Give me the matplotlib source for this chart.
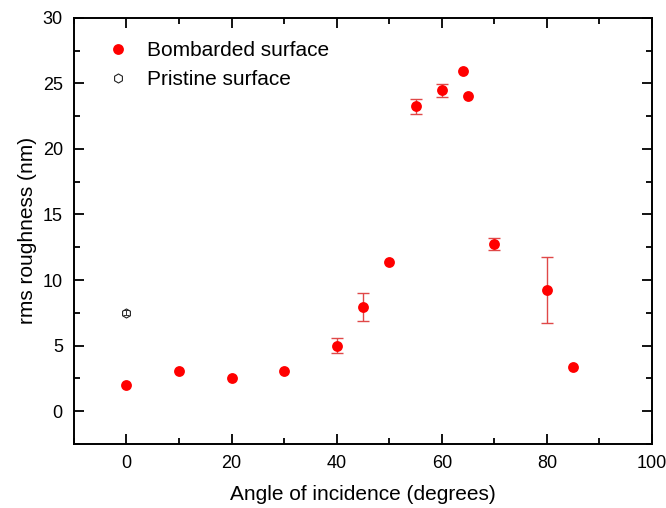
import matplotlib
matplotlib.use('Agg')
import matplotlib.pyplot as plt
from matplotlib.ticker import MultipleLocator

plt.rcParams['font.family'] = ['Liberation Sans', 'DejaVu Sans']

# bombarded surface
angle = [0, 10, 20, 30, 40, 45, 50, 55, 60, 64, 65, 70, 80, 85]
rms = [2.0, 3.08, 2.57, 3.1, 5.01, 7.96, 11.4, 23.25, 24.48, 25.93, 24.0, 12.75, 9.24, 3.38]
rms_err = [0, 0, 0, 0, 0.57, 1.07, 0, 0.55, 0.5, 0, 0, 0.45, 2.55, 0]

# pristine surface
pr_angle = [0]
pr_rms = [7.5]
pr_err = [0.2]

fig = plt.figure(figsize=(6.66, 5.08), dpi=100)
ax = fig.add_axes([0.111, 0.126, 0.868, 0.839])

# only points that actually have an error bar
ex = [a for a, e in zip(angle, rms_err) if e > 0]
ey = [r for r, e in zip(rms, rms_err) if e > 0]
ee = [e for e in rms_err if e > 0]
ax.errorbar(ex, ey, yerr=ee, fmt='none', ecolor='#e04848',
            elinewidth=1.0, capsize=4, capthick=1.0, zorder=2)
ax.plot(angle, rms, 'o', color='#ff0000', markersize=7.8, markeredgewidth=0,
        label='Bombarded surface', zorder=3)
ax.errorbar(pr_angle, pr_rms, yerr=pr_err, fmt='none', ecolor='#333333',
            elinewidth=0.7, capsize=2.5, capthick=0.7, zorder=2)
ax.plot(pr_angle, pr_rms, 'h', color='none', markeredgecolor='#222222',
        markersize=6.5, markeredgewidth=0.8, label='Pristine surface', zorder=3)

ax.set_xlim(-10, 100)
ax.set_ylim(-2.5, 30)
ax.xaxis.set_major_locator(MultipleLocator(20))
ax.xaxis.set_minor_locator(MultipleLocator(10))
ax.yaxis.set_major_locator(MultipleLocator(5))
ax.yaxis.set_minor_locator(MultipleLocator(2.5))
ax.tick_params(which='both', direction='in', top=True, right=True,
               labeltop=False, labelright=False, width=1.3, labelsize=13)
ax.tick_params(which='major', length=7, pad=8)
ax.tick_params(which='minor', length=4)
for s in ax.spines.values():
    s.set_linewidth(1.4)

ax.set_xlabel('Angle of incidence (degrees)', fontsize=15, labelpad=9)
ax.set_ylabel('rms roughness (nm)', fontsize=15, labelpad=4)

ax.legend(loc='upper left', frameon=False, fontsize=15, handletextpad=0.6,
          handlelength=1.6, borderaxespad=0.5, labelspacing=0.5,
          bbox_to_anchor=(0.015, 0.99))

fig.savefig('out.png', dpi=100)
